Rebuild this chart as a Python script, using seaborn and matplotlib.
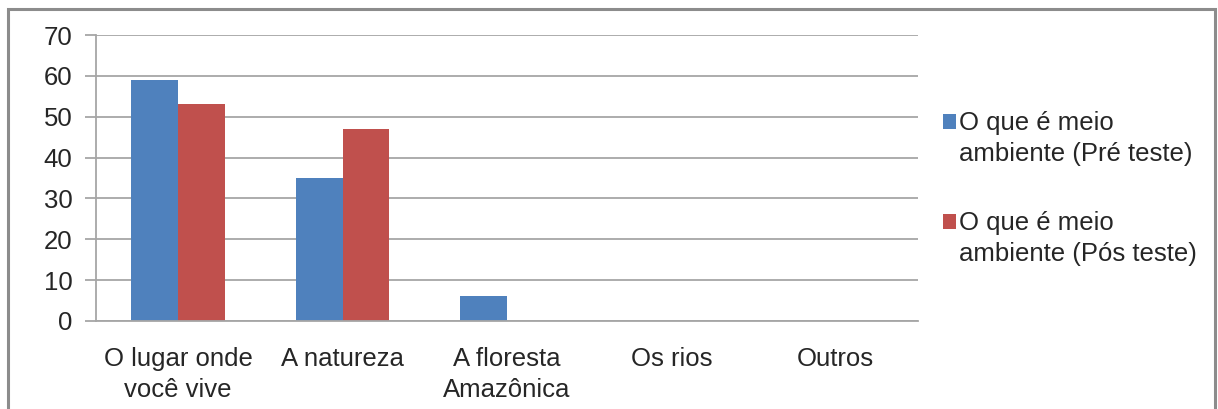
import pandas as pd
import numpy as np
import matplotlib
matplotlib.use("Agg")
import matplotlib.pyplot as plt
import seaborn as sns
from matplotlib.patches import Rectangle

# chart data
categorias = ["O lugar onde\nvocê vive", "A natureza", "A floresta\nAmazônica", "Os rios", "Outros"]
pre_teste = [59, 35, 6, 0, 0]
pos_teste = [53, 47, 0, 0, 0]
series = ["O que é meio\nambiente (Pré teste)", "O que é meio\nambiente (Pós teste)"]
y_ticks = [0, 10, 20, 30, 40, 50, 60, 70]

df = pd.DataFrame({
    "categoria": categorias * 2,
    "valor": pre_teste + pos_teste,
    "serie": [series[0]] * len(categorias) + [series[1]] * len(categorias),
})

sns.set_style("white")
plt.rcParams["font.family"] = ["Liberation Sans", "DejaVu Sans"]
FS = 18.5

fig = plt.figure(figsize=(12.18, 4.09), dpi=100)
ax = fig.add_axes([0.0788, 0.2152, 0.6749, 0.6992])

sns.barplot(data=df, x="categoria", y="valor", hue="serie",
            palette=["#4F81BD", "#C0504D"], width=0.57, saturation=1,
            edgecolor="none", ax=ax)

ax.set_xlim(-0.5, len(categorias) - 0.5)
ax.set_ylim(0, 70)
ax.set_yticks(y_ticks)
ax.yaxis.grid(True, color="#A6A6A6", linewidth=1.3)
ax.set_axisbelow(True)
ax.set_xlabel("")
ax.set_ylabel("")

for side in ["top", "right"]:
    ax.spines[side].set_visible(False)
for side in ["left", "bottom"]:
    ax.spines[side].set_color("#A6A6A6")
    ax.spines[side].set_linewidth(1.3)

# category boundary ticks on x axis
ax.set_xticks(np.arange(len(categorias)))
ax.set_xticklabels(categorias, fontsize=FS, linespacing=1.36)
ax.set_xticks(np.arange(len(categorias) + 1) - 0.5, minor=True)
ax.tick_params(axis="x", which="major", length=0, pad=19)
ax.tick_params(axis="x", which="minor", length=7, color="#A6A6A6", width=1.3)
ax.tick_params(axis="y", length=8, color="#A6A6A6", width=1.3, labelsize=FS, pad=9, left=True)

leg = ax.legend(loc="upper left", bbox_to_anchor=(0.774, 0.728), bbox_transform=fig.transFigure,
                frameon=False, fontsize=FS, handlelength=0.5, handleheight=0.5,
                handletextpad=0.15, labelspacing=1.75, borderaxespad=0, borderpad=0)
for t in leg.get_texts():
    t.set_linespacing(1.36)
# align the colour square with the first line of each label
for h in leg.legend_handles:
    h.set_y(h.get_y() + 12.5)

fig.patches.append(Rectangle((0.0066, -0.1), 0.991, 1.078, transform=fig.transFigure,
                             fill=False, edgecolor="#8C8C8C", linewidth=2.2))

fig.savefig("out.png", dpi=100)
